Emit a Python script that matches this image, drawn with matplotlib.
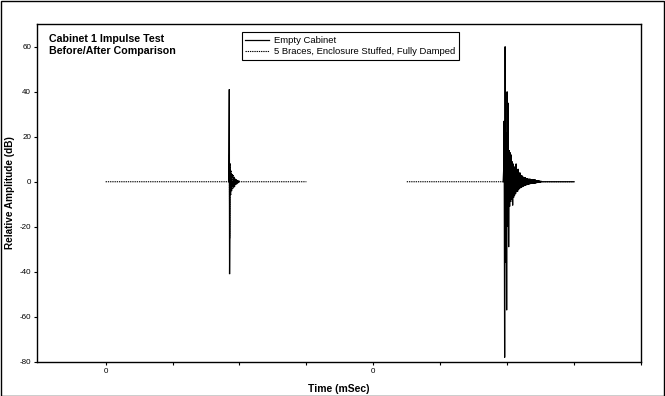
import numpy as np
import matplotlib
matplotlib.use("Agg")
import matplotlib.pyplot as plt
from matplotlib.patches import Rectangle

plt.rcParams['axes.unicode_minus'] = False
plt.rcParams['font.family'] = ['Liberation Sans', 'DejaVu Sans']

# ---------------- data ----------------
title_lines = ["Cabinet 1 Impulse Test", "Before/After Comparison"]
series_names = ["Empty Cabinet", "5 Braces, Enclosure Stuffed, Fully Damped"]
y_ticks = [-80, -60, -40, -20, 0, 20, 40, 60]
x_ticks = [0, 1, 2, 3, 4, 5, 6, 7, 8]
x_tick_labels = ["0", "", "", "", "0", "", "", "", ""]

# Empty cabinet: spike in first record (time, value)
empty_spike_t = [1.840, 1.848, 1.852, 1.860]
empty_spike_v = [0, 41, -41, 0]

# Empty cabinet: decaying ring in second record (sample step = 1/134 time unit)
empty_ring_t0 = 5.940
empty_ring_step = 1 / 134
empty_ring_v = [0, 5, 27, -78, 60, -36, 22, -57, 40, -20, 35, -29, 14, -11, 13, -9,
                12, -8, 9, -10.5, 8, -7, 6, -6, 6.8, -5.3, 8, -4.5, 5, -4.3, 5.7, -3.5,
                4, -3, 4, -2.8, 3, -2.5, 2.7, -2.3, 2.2, -2, 2, -1.8, 2, -1.6, 1.6, -1.5,
                1.5, -1.4, 1.3, -1.2, 1.3, -1.1, 1.3, -1, 1, -0.9, 1, -0.9, 1, -0.8, 0.9,
                -0.8, 1, -0.7, 0.7, -0.6, 0.6, -0.5, 0.5, -0.5, 0.5, -0.4, 0.4, -0.3, 0.3, 0]
empty_ring_end = 7.0

# Damped cabinet: first record
damped_a_start, damped_a_end = 0.0, 3.0
damped_a_t0 = 1.840
damped_a_step = 1 / 134
damped_a_v = [0, 12, -25, 8, -6, 5, -4, 3.5, -3, 2.8, -2.5, 2, -2, 1.5, -1.2, 1.2,
              -1, 0.8, -0.6, 0.5, -0.3, 0.3, 0]
# Damped cabinet: second record baseline
damped_b_t = [4.5, 7.0]
damped_b_v = [0, 0]

# ---------------- build lines ----------------
ring_t = empty_ring_t0 + empty_ring_step * np.arange(len(empty_ring_v))
empty_t = np.concatenate([empty_spike_t, [np.nan], ring_t, [empty_ring_end]])
empty_v = np.concatenate([empty_spike_v, [np.nan], empty_ring_v, [0]])

da_t = damped_a_t0 + damped_a_step * np.arange(len(damped_a_v))
damped_t = np.concatenate([[damped_a_start], da_t, [damped_a_end], [np.nan], damped_b_t])
damped_v = np.concatenate([[0], damped_a_v, [0], [np.nan], damped_b_v])

# ---------------- figure ----------------
fig = plt.figure(figsize=(6.65, 3.96), dpi=100)
ax = fig.add_axes([36.7 / 665, 1 - 362 / 396, (641 - 36.7) / 665, (362 - 24) / 396])

ax.plot(empty_t, empty_v, color='black', lw=0.9, solid_joinstyle='miter',
        label=series_names[0])
ax.plot(damped_t, damped_v, color='black', lw=0.8, linestyle=(0, (1.2, 0.8)),
        label=series_names[1])

ax.set_xlim(-1.03, 8)
ax.set_ylim(-80, 70)
ax.set_yticks(y_ticks)
ax.set_yticklabels([str(v) for v in y_ticks])
ax.set_xticks(x_ticks)
ax.set_xticklabels(x_tick_labels)
ax.tick_params(axis='both', direction='out', length=2.5, width=0.8, labelsize=5.8,
               colors='black', pad=1.5)
for s in ax.spines.values():
    s.set_linewidth(1.0)
    s.set_color('black')

ax.set_ylabel("Relative Amplitude (dB)", fontsize=7.2, fontweight='bold', labelpad=3)
ax.set_xlabel("Time (mSec)", fontsize=7.5, fontweight='bold', labelpad=7)

ax.text(0.021, 0.97, "\n".join(title_lines), transform=ax.transAxes, ha='left', va='top',
        fontsize=7.7, fontweight='bold', linespacing=1.25)

leg = ax.legend(loc='upper left', bbox_to_anchor=(0.339, 0.975), fontsize=6.8,
                frameon=True, fancybox=False, framealpha=1, edgecolor='black',
                handlelength=2.5, handletextpad=0.5, borderpad=0.4,
                labelspacing=0.2, borderaxespad=0)
leg.get_frame().set_linewidth(0.8)

fig.patches.append(Rectangle((0.5 / 665, 0.5 / 396), 663.5 / 665, 394.5 / 396,
                             transform=fig.transFigure, fill=False, edgecolor='black',
                             linewidth=1.0))

fig.savefig("out.png", dpi=100)
